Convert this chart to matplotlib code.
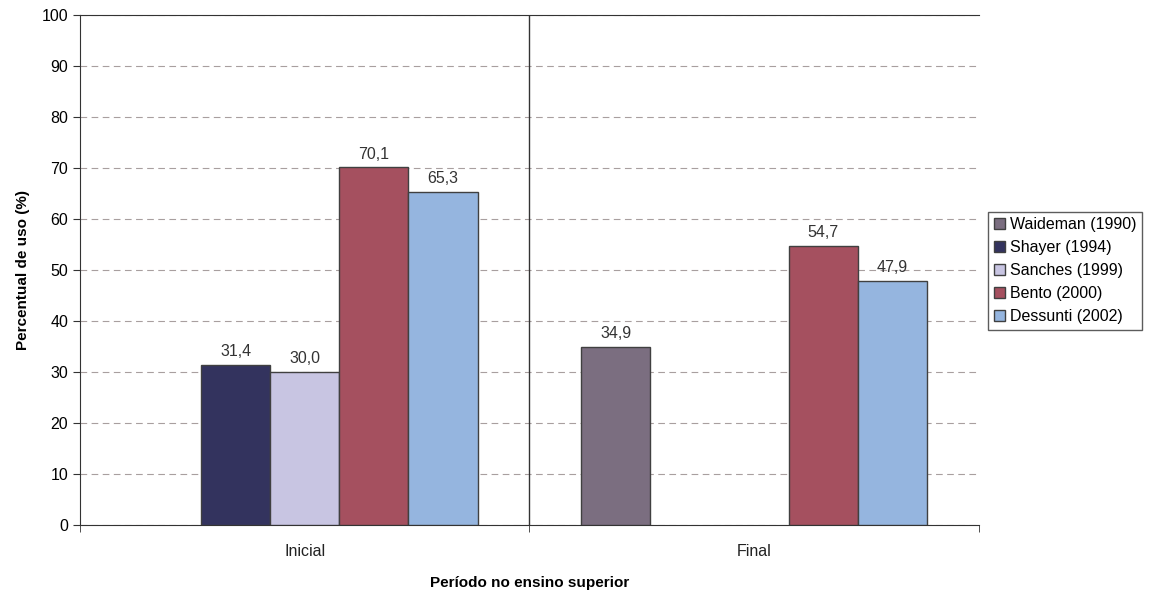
import matplotlib.pyplot as plt
import numpy as np
from matplotlib.patches import Patch

plt.rcParams["font.family"] = ["Liberation Sans", "DejaVu Sans"]

categories = ["Inicial", "Final"]
series = ["Waideman (1990)", "Shayer (1994)", "Sanches (1999)", "Bento (2000)", "Dessunti (2002)"]
values = [
    [None, 34.9],   # Waideman
    [31.4, None],   # Shayer
    [30.0, None],   # Sanches
    [70.1, 54.7],   # Bento
    [65.3, 47.9],   # Dessunti
]
colors = ["#7b6e80", "#33335e", "#c8c5e2", "#a5505f", "#95b5df"]
edge = "#404040"

fig = plt.figure(figsize=(11.49, 5.93), dpi=100)
ax = fig.add_axes([0.0696, 0.1147, 0.7824, 0.86])

n = len(series)
width = 1 / (n + 1.5)  # excel gap width 150%
x = np.arange(len(categories))
for i, (name, vals, col) in enumerate(zip(series, values, colors)):
    offs = (i - (n - 1) / 2) * width
    for xi, v in zip(x, vals):
        if v is None:
            continue
        ax.bar(xi + offs, v, width, color=col, edgecolor=edge, linewidth=1, zorder=3)
        ax.annotate(f"{v:.1f}".replace(".", ","), (xi + offs, v), xytext=(0, 4),
                    textcoords="offset points", ha="center", va="bottom",
                    fontsize=11.5, color="#333333")

ax.axvline(0.5, color="#333333", linewidth=1, zorder=4)
ax.set_xlim(-0.5, 1.5)
ax.set_ylim(0, 100)
ax.set_yticks(np.arange(0, 101, 10))
ax.yaxis.grid(True, linestyle=(0, (6, 4)), color="#a89f9f", linewidth=0.8)
ax.set_axisbelow(True)

ax.set_xticks(x)
ax.set_xticklabels(categories)
ax.set_xticks([-0.5, 0.5, 1.5], minor=True)
ax.tick_params(axis="x", which="major", length=0, pad=14, labelsize=11.5, colors="#222222")
ax.tick_params(axis="x", which="minor", length=5, direction="out", color="#333333")
ax.tick_params(axis="y", length=5, direction="out", labelsize=11.5, color="#333333")

for s in ["left", "bottom", "top"]:
    ax.spines[s].set_color("#333333")
ax.spines["right"].set_visible(False)

ax.set_xlabel("Período no ensino superior", fontweight="bold", fontsize=11, labelpad=12)
ax.set_ylabel("Percentual de uso (%)", fontweight="bold", fontsize=11, labelpad=8)

handles = [Patch(facecolor=c, edgecolor=edge, label=s) for s, c in zip(series, colors)]
leg = fig.legend(handles=handles, loc="upper left", bbox_to_anchor=(0.86, 0.643),
                 frameon=True, fancybox=False, edgecolor="#333333", fontsize=11.5,
                 handlelength=0.7, handleheight=0.7, handletextpad=0.3,
                 borderpad=0.35, labelspacing=0.5, borderaxespad=0)
leg.get_frame().set_linewidth(1)

fig.savefig("out.png", dpi=100)
